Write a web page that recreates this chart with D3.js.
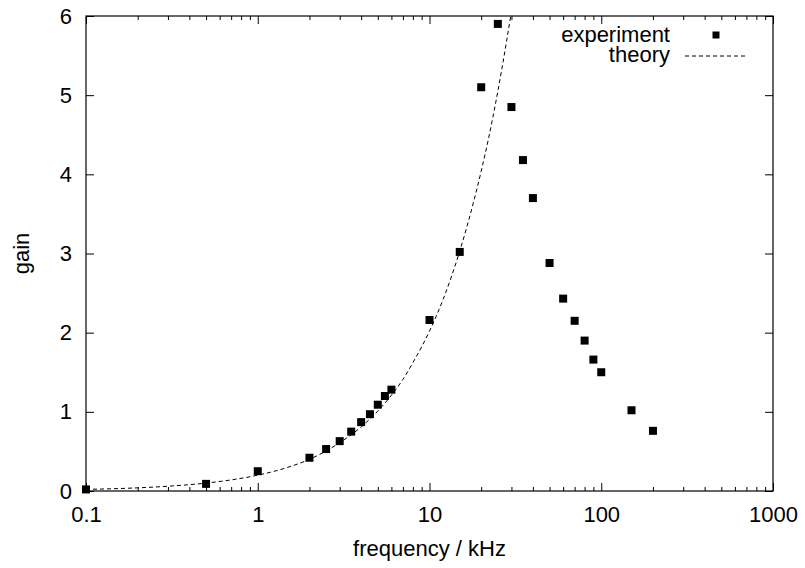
<!DOCTYPE html>
<html>
<head>
	<meta charset="UTF-8">
	<script src="https://d3js.org/d3.v7.min.js"></script>
	<title>gain vs frequency</title>
	<style>
		body { margin: 0; background: #fff; }
		text { font-family: "Liberation Sans", Arial, Helvetica, sans-serif; fill: #000; }
	</style>
</head>
<body>
	<div id="chart"></div>

	<script>
		// measured points
		var expFreq = [0.1, 0.5, 1, 2, 2.5, 3, 3.5, 4, 4.5, 5, 5.5, 6, 10, 15, 20, 25, 30, 35, 40, 50, 60, 70, 80, 90, 100, 150, 200];
		var expGain = [0.02, 0.09, 0.25, 0.42, 0.53, 0.63, 0.75, 0.87, 0.97, 1.09, 1.2, 1.28, 2.16, 3.02, 5.1, 5.9, 4.85, 4.18, 3.7, 2.88, 2.43, 2.15, 1.9, 1.66, 1.5, 1.02, 0.76];

		// theory curve
		var theoFreq = [0.1, 0.2, 0.3, 0.5, 0.7, 1, 1.5, 2, 3, 4, 5, 6, 7, 8, 10, 12, 15, 18, 20, 22, 25, 28, 30, 32];
		var theoGain = [0.02, 0.04, 0.06, 0.1, 0.14, 0.2, 0.3, 0.4, 0.61, 0.81, 1.01, 1.21, 1.41, 1.62, 2.02, 2.42, 3.03, 3.64, 4.04, 4.44, 5.05, 5.66, 6.06, 6.46];

		var xTicks = [0.1, 1, 10, 100, 1000];
		var xTickLabels = ["0.1", "1", "10", "100", "1000"];
		var yTicks = [0, 1, 2, 3, 4, 5, 6];
		var legendLabels = ["experiment", "theory"];

		var width = 805, height = 568;
		var margin = {left: 86, right: 32, top: 16, bottom: 77};
		var w = width - margin.left - margin.right;
		var h = height - margin.top - margin.bottom;

		var svg = d3.select("#chart").append("svg")
			.attr("width", width)
			.attr("height", height);

		var g = svg.append("g")
			.attr("transform", "translate(" + margin.left + "," + margin.top + ")");

		var x = d3.scaleLog().domain([0.1, 1000]).range([0, w]);
		var y = d3.scaleLinear().domain([0, 6]).range([h, 0]);

		// minor ticks 2..9 in every decade
		var minor = [];
		xTicks.slice(0, -1).forEach(function(d) {
			for (var k = 2; k < 10; k++) minor.push(d * k);
		});

		g.append("clipPath").attr("id", "clip")
			.append("rect").attr("width", w).attr("height", h);

		// axes (ticks point inwards, gnuplot style)
		var fmt = function(d) { return xTickLabels[xTicks.indexOf(d)]; };

		g.append("g").attr("class", "axis").attr("transform", "translate(0," + h + ")")
			.call(d3.axisBottom(x).tickValues(xTicks).tickFormat(fmt).tickSize(-8).tickPadding(15));
		g.append("g").attr("class", "axis").attr("transform", "translate(0," + h + ")")
			.call(d3.axisBottom(x).tickValues(minor).tickFormat("").tickSize(-4));
		g.append("g").attr("class", "axis")
			.call(d3.axisTop(x).tickValues(xTicks).tickFormat("").tickSize(-8));
		g.append("g").attr("class", "axis")
			.call(d3.axisTop(x).tickValues(minor).tickFormat("").tickSize(-4));
		g.append("g").attr("class", "axis")
			.call(d3.axisLeft(y).tickValues(yTicks).tickFormat(d3.format("d")).tickSize(-8).tickPadding(14));
		g.append("g").attr("class", "axis").attr("transform", "translate(" + w + ",0)")
			.call(d3.axisRight(y).tickValues(yTicks).tickFormat("").tickSize(-8));

		g.selectAll(".axis .domain").remove();
		g.selectAll(".axis line").attr("stroke", "#000");
		g.selectAll(".axis text")
			.style("font-size", "22px")
			.attr("fill", "#000");

		// border
		g.append("rect")
			.attr("width", w).attr("height", h)
			.attr("fill", "none")
			.attr("stroke", "#000")
			.attr("stroke-width", 1.2);

		// theory line
		var line = d3.line()
			.x(function(d, i) { return x(theoFreq[i]); })
			.y(function(d) { return y(d); })
			.curve(d3.curveMonotoneX);

		g.append("path")
			.datum(theoGain)
			.attr("clip-path", "url(#clip)")
			.attr("d", line)
			.attr("fill", "none")
			.attr("stroke", "#000")
			.attr("stroke-width", 1)
			.attr("stroke-dasharray", "4,3");

		// experiment squares
		var sq = 8;
		g.selectAll("rect.pt")
			.data(expGain)
			.enter()
			.append("rect")
			.attr("class", "pt")
			.attr("x", function(d, i) { return x(expFreq[i]) - sq / 2; })
			.attr("y", function(d) { return y(d) - sq / 2; })
			.attr("width", sq)
			.attr("height", sq)
			.attr("fill", "#000");

		// legend
		var legend = svg.append("g").attr("id", "legend");
		legend.selectAll("text")
			.data(legendLabels)
			.enter()
			.append("text")
			.attr("x", 670)
			.attr("y", function(d, i) { return 42 + i * 20; })
			.attr("text-anchor", "end")
			.style("font-size", "22px")
			.text(function(d) { return d; });
		legend.append("rect")
			.attr("x", 716 - 3.5).attr("y", 35 - 3.5)
			.attr("width", 7).attr("height", 7)
			.attr("fill", "#000");
		legend.append("line")
			.attr("x1", 685).attr("x2", 747)
			.attr("y1", 56).attr("y2", 56)
			.attr("stroke", "#000")
			.attr("stroke-width", 1)
			.attr("stroke-dasharray", "4,3");

		// axis titles
		svg.append("text")
			.attr("x", margin.left + w / 2)
			.attr("y", 556)
			.attr("text-anchor", "middle")
			.style("font-size", "22px")
			.text("frequency / kHz");

		svg.append("text")
			.attr("transform", "translate(29," + (margin.top + h / 2) + ") rotate(-90)")
			.attr("text-anchor", "middle")
			.style("font-size", "22px")
			.text("gain");
	</script>
</body>
</html>
